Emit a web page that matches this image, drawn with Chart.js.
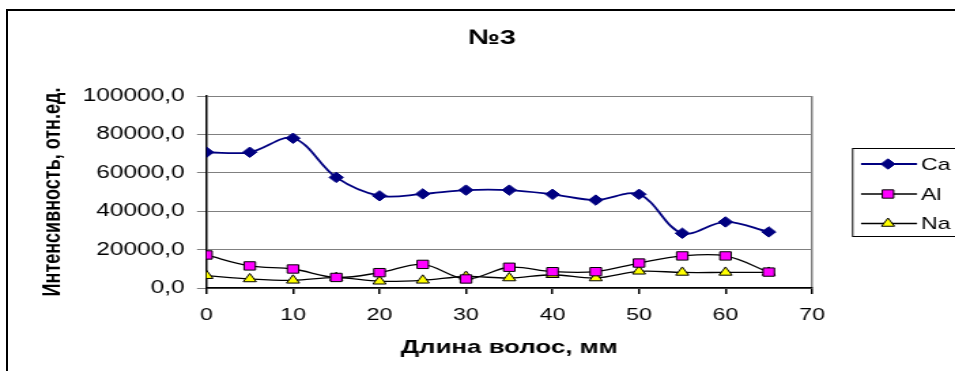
<!DOCTYPE html>
<html>
<head>
<meta charset="utf-8">
<script src="https://cdn.jsdelivr.net/npm/chart.js@4"></script>
<style>
  html, body { margin: 0; padding: 0; background: #fff; overflow: hidden; }
  #frame { position: absolute; left: 6px; top: 9px; width: 1000px; height: 400px; border: 2px solid #000; }
  #wrap { position: absolute; left: 0; top: 0; width: 702px; height: 371px; transform-origin: 0 0; }
</style>
</head>
<body>
<div id="frame"></div>
<div id="wrap"><canvas id="chart" width="702" height="371"></canvas></div>
<script>
// input data
const title = '№3';
const xTitle = 'Длина волос, мм';
const yTitle = 'Интенсивность, отн.ед.';

const lengths = [0, 5, 10, 15, 20, 25, 30, 35, 40, 45, 50, 55, 60, 65];
const ca = [70700, 70700, 78000, 57600, 48000, 49000, 51000, 51000, 48800, 45800, 48800, 28500, 34400, 29200];
const al = [17200, 11500, 9900, 5500, 8000, 12300, 4700, 10800, 8500, 8500, 13000, 16700, 16700, 8300];
const na = [6400, 4700, 4000, 5400, 3500, 4000, 6000, 5200, 6900, 5200, 8700, 8100, 8100, 8100];

const xTicks = [0, 10, 20, 30, 40, 50, 60, 70];
const yTicks = [0, 20000, 40000, 60000, 80000, 100000];

// the reference picture is stretched sideways, canvas is drawn narrow and widened by css
const stretch = 955 / 702;
document.getElementById('wrap').style.transform = `scaleX(${stretch})`;
const font = "'Liberation Sans', Arial, sans-serif";

function points(values) {
    return lengths.map((x, i) => ({ x: x, y: values[i] }));
}

// title and legend drawn by hand
const extras = {
    id: 'extras',
    afterDraw(chart) {
        const ctx = chart.ctx;
        ctx.save();
        ctx.fillStyle = '#000';
        ctx.font = `bold 21px ${font}`;
        ctx.textAlign = 'center';
        ctx.textBaseline = 'middle';
        ctx.fillText(title, 492 / stretch, 38);

        // legend box
        const boxLeft = 852 / stretch;
        ctx.strokeStyle = '#000';
        ctx.lineWidth = 1;
        ctx.strokeRect(boxLeft + 0.5, 148.5, 200, 88);

        const rowsY = [164, 194, 223.5];
        ctx.font = `17px ${font}`;
        ctx.textAlign = 'left';
        chart.data.datasets.forEach((ds, i) => {
            const y = rowsY[i];
            ctx.strokeStyle = ds.borderColor;
            ctx.lineWidth = ds.borderWidth;
            ctx.beginPath();
            ctx.moveTo(861 / stretch, y);
            ctx.lineTo(917 / stretch, y);
            ctx.stroke();
            ctx.fillStyle = ds.pointBackgroundColor;
            ctx.strokeStyle = ds.pointBorderColor;
            ctx.lineWidth = ds.pointBorderWidth;
            Chart.helpers.drawPoint(ctx, {
                pointStyle: ds.pointStyle,
                radius: ds.pointRadius,
                rotation: 0,
                borderWidth: ds.pointBorderWidth
            }, 888 / stretch, y);
            ctx.fillStyle = '#000';
            ctx.fillText(ds.label, 921 / stretch, y + 1);
        });
        ctx.restore();
    }
};

const chart = new Chart(document.getElementById('chart'), {
    type: 'line',
    data: {
        datasets: [{
            label: 'Ca',
            data: points(ca),
            borderColor: '#000080',
            borderWidth: 1.8,
            pointStyle: 'rectRot',
            pointRadius: 5.2,
            pointBackgroundColor: '#000080',
            pointBorderColor: '#000080',
            pointBorderWidth: 1,
            tension: 0.35
        }, {
            label: 'Al',
            data: points(al),
            borderColor: '#000',
            borderWidth: 1.3,
            pointStyle: 'rect',
            pointRadius: 5.9,
            pointBackgroundColor: '#ff00ff',
            pointBorderColor: '#000',
            pointBorderWidth: 1,
            tension: 0.35
        }, {
            label: 'Na',
            data: points(na),
            borderColor: '#000',
            borderWidth: 1.3,
            pointStyle: 'triangle',
            pointRadius: 5.5,
            pointBackgroundColor: '#ffff00',
            pointBorderColor: '#000',
            pointBorderWidth: 1,
            tension: 0.35
        }]
    },
    options: {
        responsive: false,
        animation: false,
        devicePixelRatio: 1,
        layout: { padding: { left: 0, top: 96, right: 702 - 812 / stretch, bottom: 0 } },
        plugins: {
            legend: { display: false },
            title: { display: false },
            tooltip: { enabled: false }
        },
        scales: {
            x: {
                type: 'linear',
                min: 0,
                max: 70,
                afterBuildTicks: (axis) => { axis.ticks = xTicks.map(v => ({ value: v })); },
                afterFit: (axis) => { axis.height = 371 - 288; },
                grid: {
                    color: (c) => (c.tick && c.tick.value === 70) ? '#808080' : 'rgba(0,0,0,0)',
                    tickColor: '#000',
                    tickLength: 6,
                    lineWidth: 1.5
                },
                border: { color: '#000', width: 1.5 },
                ticks: { color: '#000', font: { family: font, size: 17 }, padding: 11, maxRotation: 0 },
                title: {
                    display: true,
                    text: xTitle,
                    color: '#000',
                    font: { family: font, size: 19, weight: 'bold' },
                    padding: { top: 0, bottom: 12 }
                }
            },
            y: {
                min: 0,
                max: 100000,
                afterBuildTicks: (axis) => { axis.ticks = yTicks.map(v => ({ value: v })); },
                afterFit: (axis) => { axis.width = 206.5 / stretch; },
                grid: { color: '#808080', tickLength: 7, lineWidth: 1 },
                border: { color: '#000', width: 1.5 },
                ticks: {
                    color: '#000',
                    font: { family: font, size: 18 },
                    padding: 9,
                    callback: (v) => v.toFixed(1).replace('.', ',')
                },
                title: {
                    display: true,
                    text: yTitle,
                    color: '#000',
                    font: { family: font, size: 18, weight: 'bold' },
                    padding: { top: 28, bottom: 0 }
                }
            }
        }
    },
    plugins: [extras]
});
</script>
</body>
</html>
